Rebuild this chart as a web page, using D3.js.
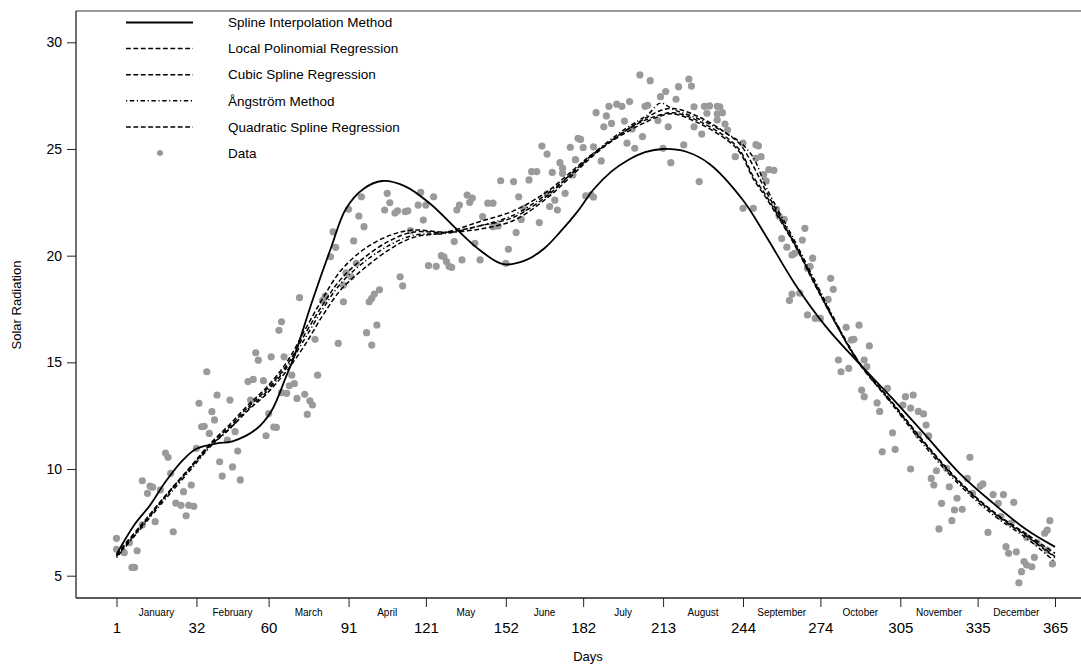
<!DOCTYPE html>
<html lang="en">
<head>
<meta charset="utf-8">
<title>Solar Radiation</title>
<style>
  html, body { margin: 0; padding: 0; background: #fff; }
  svg { display: block; font-family: "Liberation Sans", Arial, sans-serif; }
  .axis text { font-size: 14px; fill: #000; }
  .axis line { stroke: #222; }
</style>
</head>
<body>
<div id="chart"></div>
<script src="https://d3js.org/d3.v7.min.js"></script>
<script>
var w = 1081, h = 664;

// axis ticks
var dayTicks = [1, 32, 60, 91, 121, 152, 182, 213, 244, 274, 305, 335, 365];
var months = ["January", "February", "March", "April", "May", "June", "July",
  "August", "September", "October", "November", "December"];
var yTicks = [5, 10, 15, 20, 25, 30];

var obsDay = [1,1,4,9,7,8,6,16,11,11,14,15,13,18,20,21,22,23,24,26,27,29,31,28,30,36,33,40,38,39,34,35,37,32,41,42,46,48,49,44,47,45,52,54,58,55,56,61,66,65,67,69,68,70,71,74,76,77,75,79,62,63,59,60,53,64,65,87,98,100,102,78,
  72,81,82,89,85,86,84,91,96,95,97,93,94,90,92,89,100,101,103,99,111,112,106,107,105,109,110,113,114,119,124,118,121,120,115,122,125,127,128,130,131,129,135,132,133,134,138,139,137,145,147,142,140,143,147,149,150,155,153,152,156,157,158,159,161,162,164,168,169,171,165,172,175,174,170,173,178,166,168,
  204,208,223,224,219,214,212,218,206,207,200,195,197,192,187,191,190,193,198,201,205,199,202,189,182,186,180,181,177,174,179,183,185,186,211,215,213,216,221,225,228,227,225,229,231,234,235,230,234,236,234,237,238,241,244,249,250,251,249,244,248,254,256,253,252,257,258,260,259,261,268,267,264,271,269,
  263,270,262,263,266,269,272,274,278,279,277,284,289,286,287,281,282,285,293,291,292,290,291,300,296,297,307,310,306,309,312,314,315,316,312,302,303,298,309,332,323,319,317,318,324,327,321,326,329,325,320,331,333,336,337,341,345,343,349,339,344,348,346,347,350,353,354,356,352,351,357,354,358,361,362,363,364,362];
var obsVal = [6.75,6.24,6.08,6.17,5.39,5.39,6.55,7.53,7.38,9.45,9.2,9.15,8.86,9.02,10.75,10.55,9.8,7.06,8.4,8.3,8.94,8.3,8.25,7.81,9.25,14.56,13.08,13.47,12.69,12.3,11.98,12.0,11.67,10.97,10.34,9.67,10.1,10.84,9.49,11.36,11.75,13.23,14.1,14.2,14.14,15.45,15.1,15.26,15.26,13.58,13.55,14.4,13.9,14.0,13.31,13.5,13.2,13.0,12.56,14.4,11.97,11.95,11.56,12.6,13.23,16.5,16.9,15.89,16.39,15.81,16.75,16.08,
  18.03,17.9,18.1,17.84,21.12,20.39,19.95,22.17,22.76,21.86,21.36,20.69,19.64,19.2,19.01,18.62,18.0,18.2,18.4,17.84,19.01,18.58,22.92,22.48,22.14,22.0,22.1,22.06,22.1,22.97,22.76,22.37,22.37,21.67,21.17,19.53,19.5,20.0,19.95,19.5,19.45,19.72,19.8,20.66,22.14,22.37,22.5,22.7,22.84,22.46,22.46,19.8,20.58,21.83,21.36,21.39,23.51,23.47,20.3,19.64,21.08,22.76,21.7,22.22,23.55,23.94,23.94,22.9,22.3,22.6,21.55,22.14,22.92,23.86,23.9,24.36,23.78,25.14,24.76,
  28.47,28.2,28.28,27.95,27.92,27.69,27.45,27.33,27.0,27.05,27.22,27.1,27.0,27.0,26.7,26.55,26.04,26.2,26.31,25.94,25.58,25.27,25.03,24.44,25.07,25.1,25.5,25.45,25.08,24.1,24.5,22.8,22.85,22.75,26.33,26.04,25.03,24.36,25.19,26.04,25.7,23.47,26.98,27.0,27.02,27.0,26.98,26.67,26.65,26.7,26.36,26.17,25.89,24.64,25.27,25.2,25.15,24.64,24.56,22.22,22.22,24.03,24.0,23.5,23.8,22.17,21.86,21.7,20.8,20.4,21.28,20.73,20.11,19.88,19.41,
  20.03,19.5,17.9,18.2,18.24,17.22,17.06,17.06,18.94,18.42,17.95,16.64,16.74,16.05,16.08,15.11,14.56,14.72,15.77,15.11,14.8,13.7,13.39,13.78,13.1,12.7,13.39,13.47,13.0,12.85,12.7,12.58,12.06,11.55,11.6,11.7,10.92,10.81,10.0,10.55,10.03,9.92,9.56,9.25,9.17,8.63,8.39,8.08,8.11,7.58,7.19,9.56,8.86,9.2,9.3,8.8,8.8,8.39,8.44,7.03,7.77,7.46,6.36,6.05,6.12,5.66,5.5,5.42,5.19,4.67,5.86,6.8,6.55,6.99,7.14,7.58,5.55,6.2];

// spline interpolation method (solid)
var splDays = [1,8,14,20,27,32,40,46,55,61,67,70,77,84,90,97,104,113,123,132,142,151,160,167,173,180,186,193,199,206,213,222,231,244,253,264,276,289,302,315,328,341,354,365];
var splVal  = [6.0,7.4,8.3,9.4,10.45,10.95,11.2,11.3,11.85,12.7,14.4,15.3,17.9,20.3,22.2,23.15,23.5,23.25,22.4,21.35,20.25,19.6,19.8,20.35,21.1,22.1,23.1,23.95,24.45,24.85,25.0,24.87,24.3,22.6,20.9,18.7,16.7,14.95,13.3,11.55,9.8,8.4,7.15,6.35];

// regression curves share the same knot days
var regDays = [1,10,20,30,37,45,52,59,67,74,81,88,97,107,116,129,142,155,168,178,186,199,207,212,217,227,238,243,248,253,264,272,280,289,302,315,328,341,354,365];
var localPoly = [5.95,7.25,8.75,10.15,11.15,12.1,13.0,13.8,15.0,16.5,18.0,19.3,20.3,20.95,21.2,21.1,21.25,21.65,22.7,23.8,24.7,25.9,26.5,26.8,26.9,26.5,25.7,25.2,24.2,23.0,20.6,18.7,16.85,15.0,13.1,11.15,9.4,8.0,6.9,5.9];
var cubicSpl  = [6.0,7.3,8.75,10.1,11.05,11.9,12.75,13.5,14.6,15.8,17.2,18.4,19.4,20.3,20.85,21.1,21.6,22.1,23.0,24.0,24.8,25.8,26.3,26.55,26.65,26.2,25.4,24.8,23.6,22.7,20.5,18.6,16.8,15.0,13.1,11.15,9.4,8.0,6.95,6.05];
var angstrom  = [5.85,7.15,8.6,10.0,11.0,11.9,12.8,13.6,14.75,16.1,17.5,18.7,19.7,20.5,20.95,21.05,21.4,21.9,22.9,23.9,24.8,26.0,26.6,27.15,26.85,26.4,25.7,25.3,24.6,23.2,20.7,18.8,16.9,15.0,13.0,11.0,9.25,7.85,6.75,5.65];
var quadSpl   = [5.9,7.2,8.7,10.1,11.1,12.0,12.9,13.7,14.85,16.3,17.7,18.9,19.9,20.7,21.1,21.1,21.4,21.8,22.8,23.9,24.75,25.9,26.4,26.6,26.7,26.3,25.5,24.9,23.7,22.8,20.55,18.65,16.8,14.95,13.05,11.1,9.35,7.95,6.85,5.85];

var legendNames = ["Spline Interpolation Method", "Local Polinomial Regression",
  "Cubic Spline Regression", "\u00c5ngstr\u00f6m Method", "Quadratic Spline Regression", "Data"];
var dashes = [null, "4.8,2.6", "4.8,2.6", "1.2,2.6,4.4,2.6", "4.8,2.6"];

var box = {left: 76, top: 11, bottom: 598};

var x = d3.scaleLinear().domain([1, 365]).range([116.5, 1055]);
var y = d3.scaleLinear().domain([5, 30]).range([575.7, 42.3]);

var svg = d3.select("#chart").append("svg")
  .attr("width", w).attr("height", h);
svg.append("rect").attr("width", w).attr("height", h).attr("fill", "#fff");

// frame (right side is cut off in the original)
svg.append("line").attr("x1", box.left).attr("x2", w).attr("y1", box.top).attr("y2", box.top)
  .attr("stroke", "#777").attr("stroke-width", 1.6);
svg.append("line").attr("x1", box.left).attr("x2", box.left).attr("y1", box.top).attr("y2", box.bottom)
  .attr("stroke", "#333").attr("stroke-width", 1.4);
svg.append("line").attr("x1", box.left).attr("x2", w).attr("y1", box.bottom).attr("y2", box.bottom)
  .attr("stroke", "#222").attr("stroke-width", 1.4);

// y axis
var yAxis = svg.append("g").attr("class", "axis")
  .attr("transform", "translate(" + box.left + ",0)")
  .call(d3.axisLeft(y).tickValues(yTicks).tickSize(9).tickPadding(5).tickSizeOuter(0));
yAxis.select(".domain").remove();

// x axis
var xAxis = svg.append("g").attr("class", "axis")
  .attr("transform", "translate(0," + box.bottom + ")")
  .call(d3.axisBottom(x).tickValues(dayTicks).tickSize(9).tickPadding(15).tickSizeOuter(0));
xAxis.select(".domain").remove();
xAxis.selectAll("text").style("font-size", "15px");

// month names between ticks
svg.selectAll(".month").data(months).enter().append("text")
  .attr("class", "month")
  .attr("x", function(d, i) { return x((dayTicks[i] + dayTicks[i + 1]) / 2); })
  .attr("y", 616)
  .attr("text-anchor", "middle")
  .attr("font-size", "10px")
  .text(function(d) { return d; });

// axis titles
svg.append("text").attr("x", 588).attr("y", 661).attr("text-anchor", "middle")
  .attr("font-size", "13px").text("Days");
svg.append("text").attr("transform", "translate(21,305) rotate(-90)")
  .attr("text-anchor", "middle").attr("font-size", "13px").text("Solar Radiation");

// data points
svg.append("g").selectAll("circle")
  .data(obsDay.map(function(d, i) { return {d: d, v: obsVal[i]}; }))
  .enter().append("circle")
  .attr("cx", function(p) { return x(p.d); })
  .attr("cy", function(p) { return y(p.v); })
  .attr("r", 3.6)
  .attr("fill", "#9a9a9a");

// curves
var line = d3.line()
  .x(function(p) { return x(p[0]); })
  .y(function(p) { return y(p[1]); })
  .curve(d3.curveCatmullRom.alpha(0.5));

var series = [
  d3.zip(splDays, splVal),
  d3.zip(regDays, localPoly),
  d3.zip(regDays, cubicSpl),
  d3.zip(regDays, angstrom),
  d3.zip(regDays, quadSpl)
];

svg.append("g").selectAll("path")
  .data(series).enter().append("path")
  .attr("d", line)
  .attr("fill", "none")
  .attr("stroke", "#000")
  .attr("stroke-width", function(d, i) { return i == 0 ? 1.8 : 1.5; })
  .attr("stroke-dasharray", function(d, i) { return dashes[i]; });

// legend
var leg = svg.append("g");
legendNames.forEach(function(name, i) {
  var ly = 22.5 + i * 26.1;
  if (i < 5) {
    leg.append("line").attr("x1", 126).attr("x2", 193).attr("y1", ly).attr("y2", ly)
      .attr("stroke", "#000").attr("stroke-width", i == 0 ? 1.8 : 1.5)
      .attr("stroke-dasharray", dashes[i]);
  } else {
    leg.append("circle").attr("cx", 160).attr("cy", ly).attr("r", 3).attr("fill", "#9a9a9a");
  }
  leg.append("text").attr("x", 228).attr("y", ly).attr("dy", "0.35em")
    .attr("font-size", "13.5px").text(name);
});
</script>
</body>
</html>
